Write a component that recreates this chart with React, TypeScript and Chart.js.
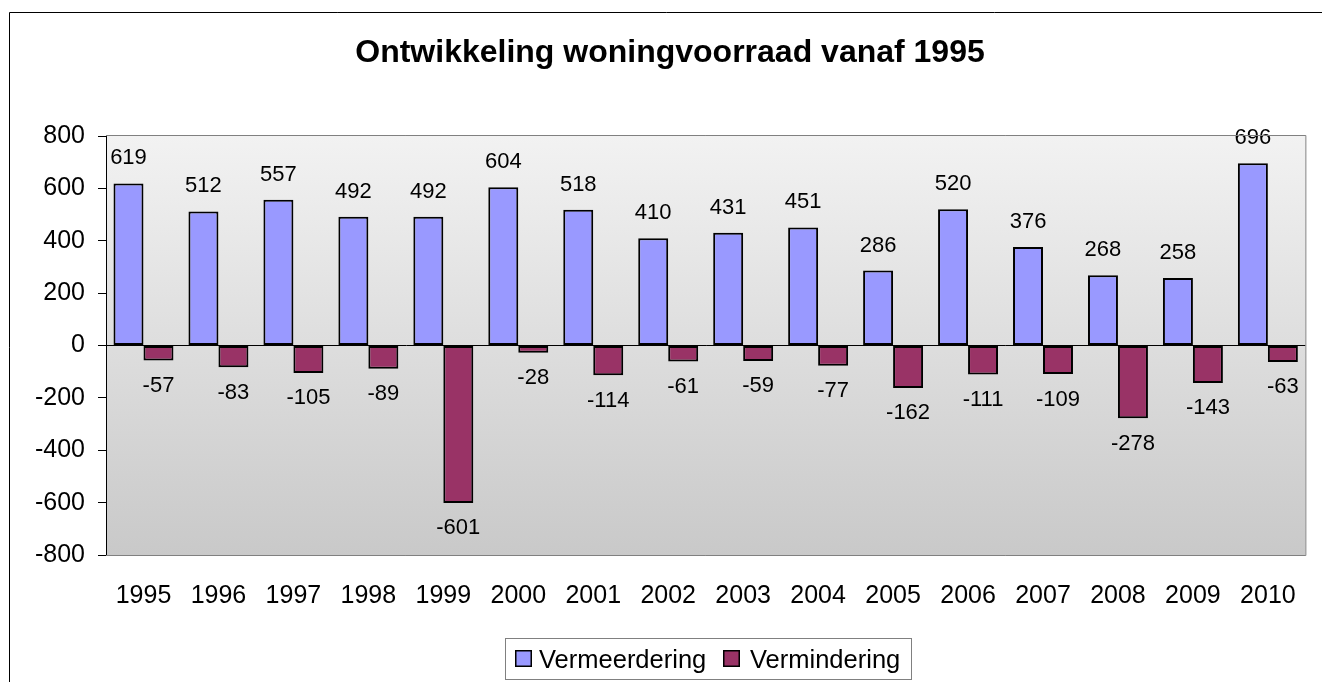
import React, { useEffect, useRef } from "react";
import { Chart, registerables } from "chart.js";

Chart.register(...registerables);

const categories = ["1995", "1996", "1997", "1998", "1999", "2000", "2001", "2002", "2003", "2004", "2005", "2006", "2007", "2008", "2009", "2010"];
const vermeerdering = [619, 512, 557, 492, 492, 604, 518, 410, 431, 451, 286, 520, 376, 268, 258, 696];
const vermindering = [-57, -83, -105, -89, -601, -28, -114, -61, -59, -77, -162, -111, -109, -278, -143, -63];
const yTicks = [-800, -600, -400, -200, 0, 200, 400, 600, 800];
const seriesNames = ["Vermeerdering", "Vermindering"];
const seriesColors = ["#9999FF", "#993366"];
const chartTitle = "Ontwikkeling woningvoorraad vanaf 1995";

const FONT = "'Liberation Sans', Arial, Helvetica, sans-serif";

const excelPlugin = {
  id: "excelLook",
  beforeDraw(chart: any) {
    const { ctx, chartArea } = chart;
    const { left, top, right, bottom } = chartArea;
    ctx.save();
    ctx.fillStyle = "#ffffff";
    ctx.fillRect(0, 0, chart.width, chart.height);
    const g = ctx.createLinearGradient(0, top, 0, bottom);
    g.addColorStop(0, "#f2f2f2");
    g.addColorStop(1, "#c9c9c9");
    ctx.fillStyle = g;
    ctx.fillRect(left, top, right - left, bottom - top);
    ctx.restore();
  },
  afterDatasetsDraw(chart: any) {
    const { ctx } = chart;
    ctx.save();
    ctx.font = `22px ${FONT}`;
    ctx.fillStyle = "#000";
    ctx.textAlign = "center";
    ctx.textBaseline = "alphabetic";
    chart.data.datasets.forEach((ds: any, di: number) => {
      const meta = chart.getDatasetMeta(di);
      meta.data.forEach((el: any, i: number) => {
        const v = ds.data[i];
        const y = v >= 0 ? el.y - 19 : el.y + 31.5;
        ctx.fillText(String(v), el.x, y);
      });
    });
    ctx.restore();
  },
  afterDraw(chart: any) {
    const { ctx, chartArea } = chart;
    const { left, top, right, bottom } = chartArea;
    ctx.save();
    // plot frame (gray) top/right/bottom
    ctx.strokeStyle = "#808080";
    ctx.lineWidth = 1;
    ctx.beginPath();
    ctx.moveTo(left, top - 0.5);
    ctx.lineTo(right + 0.5, top - 0.5);
    ctx.lineTo(right + 0.5, bottom + 0.5);
    ctx.lineTo(left, bottom + 0.5);
    ctx.stroke();

    // outer chart border
    ctx.strokeStyle = "#000";
    ctx.beginPath();
    ctx.moveTo(9.5, chart.height + 5);
    ctx.lineTo(9.5, 12.5);
    ctx.lineTo(chart.width + 5, 12.5);
    ctx.stroke();

    // title
    ctx.fillStyle = "#000";
    ctx.font = `bold 32px ${FONT}`;
    ctx.textAlign = "center";
    ctx.textBaseline = "alphabetic";
    ctx.fillText(chartTitle, 670, 62);

    // legend
    ctx.font = `25.5px ${FONT}`;
    ctx.textAlign = "left";
    const names = chart.data.datasets.map((d: any) => d.label);
    const colors = chart.data.datasets.map((d: any) => d.backgroundColor);
    const w1 = ctx.measureText(names[0]).width;
    const w2 = ctx.measureText(names[1]).width;
    const sq = 17;
    const contentW = sq + 7 + w1 + 17 + sq + 10 + w2;
    const boxW = contentW + 20;
    const cx = 707.5;
    const boxL = Math.round(cx - boxW / 2) + 0.5;
    ctx.strokeStyle = "#808080";
    ctx.strokeRect(boxL, 638.5, Math.round(boxW), 41);
    let x = Math.round(boxL + 9.5);
    const sy = 650;
    ctx.fillStyle = colors[0];
    ctx.fillRect(x, sy, sq, sq);
    ctx.strokeStyle = "#000";
    ctx.lineWidth = 1.5;
    ctx.strokeRect(x + 0.75, sy + 0.75, sq - 1.5, sq - 1.5);
    x += sq + 7;
    ctx.fillStyle = "#000";
    ctx.fillText(names[0], x, 668);
    x += w1 + 17;
    const x2 = Math.round(x);
    ctx.fillStyle = colors[1];
    ctx.fillRect(x2, sy, sq, sq);
    ctx.strokeRect(x2 + 0.75, sy + 0.75, sq - 1.5, sq - 1.5);
    x = x2 + sq + 10;
    ctx.fillStyle = "#000";
    ctx.fillText(names[1], x, 668);
    ctx.restore();
  },
};

export default function App() {
  const ref = useRef<HTMLCanvasElement | null>(null);
  useEffect(() => {
    if (!ref.current) return;
    const chart = new Chart(ref.current, {
      type: "bar",
      data: {
        labels: categories,
        datasets: [
          {
            label: seriesNames[0],
            data: vermeerdering,
            backgroundColor: seriesColors[0],
            borderColor: "#000",
            borderWidth: 2,
            borderSkipped: false,
            categoryPercentage: 0.8,
            barPercentage: 1,
          },
          {
            label: seriesNames[1],
            data: vermindering,
            backgroundColor: seriesColors[1],
            borderColor: "#000",
            borderWidth: 2,
            borderSkipped: false,
            categoryPercentage: 0.8,
            barPercentage: 1,
          },
        ],
      },
      options: {
        animation: false,
        responsive: true,
        maintainAspectRatio: false,
        devicePixelRatio: 1,
        layout: { padding: { top: 136, right: 10, bottom: 0, left: 0 } },
        plugins: {
          legend: { display: false },
          title: { display: false },
          tooltip: { enabled: false },
        },
        scales: {
          x: {
            grid: { display: false, drawTicks: false },
            border: { display: false },
            ticks: {
              color: "#000",
              font: { family: FONT, size: 25 },
              padding: 26,
              maxRotation: 0,
              autoSkip: false,
            },
            afterFit: (s: any) => {
              s.height = 127;
            },
          },
          y: {
            min: -800,
            max: 800,
            afterBuildTicks: (s: any) => {
              s.ticks = yTicks.map((v) => ({ value: v }));
            },
            grid: {
              drawOnChartArea: true,
              drawTicks: true,
              tickLength: 8,
              tickColor: "#000",
              color: (c: any) => (c.tick && c.tick.value === 0 ? "#000" : "rgba(0,0,0,0)"),
              lineWidth: 1,
            },
            border: { display: true, color: "#000", width: 1 },
            ticks: {
              color: "#000",
              font: { family: FONT, size: 25 },
              padding: 13,
            },
            afterFit: (s: any) => {
              s.width = 106;
            },
          },
        },
      },
      plugins: [excelPlugin],
    });
    return () => chart.destroy();
  }, []);
  return (
    <div style={{ position: "fixed", left: 0, top: 0, width: 1322, height: 682, background: "#fff" }}>
      <canvas ref={ref} />
    </div>
  );
}
